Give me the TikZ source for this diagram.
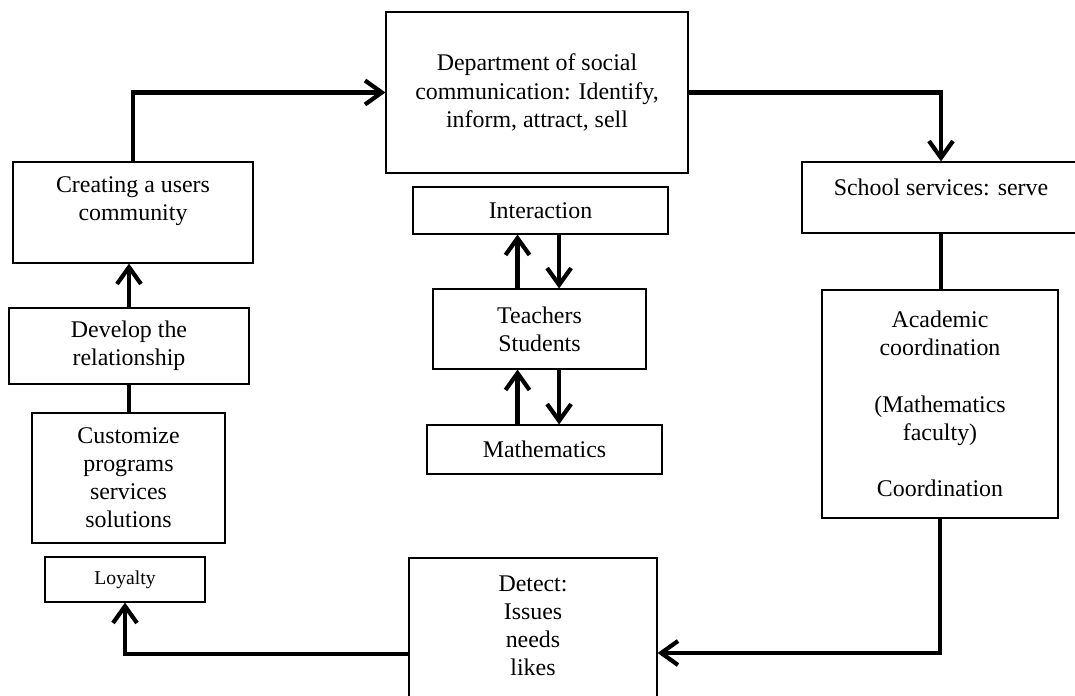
\documentclass[tikz,border=0pt]{standalone}
\usepackage{fontspec}
\setmainfont{Liberation Serif}
\usetikzlibrary{arrows.meta}

\tikzset{
  box/.style={draw, line width=0.8pt, align=center},
  flow/.style={line width=3pt, -{Straight Barb[length=4.2mm, width=6mm]}},
  link/.style={line width=3pt},
  toptext/.style={align=center, inner sep=0pt, below=#1},
}

\begin{document}
\begin{tikzpicture}[font=\fontsize{17}{20}\selectfont]
  \useasboundingbox (0,0) rectangle (26.875,17.375);

  % middle column
  \node[box, minimum width=7.55cm, minimum height=4.025cm] (dept) at (13.425,15.0625)
    {Department of social\\communication: Identify,\\inform, attract, sell};
  \node[box, minimum width=6.375cm, minimum height=1.175cm] (inter) at (13.5125,12.1125) {Interaction};
  \node[box, minimum width=5.325cm, minimum height=2cm] (teach) at (13.4875,9.15) {Teachers\\Students};
  \node[box, minimum width=5.875cm, minimum height=1.225cm] (maths) at (13.6125,6.1375) {Mathematics};
  \node[box, minimum width=6.2cm, minimum height=3.6cm,
    label={[toptext=0.45cm]north:Detect:\\Issues\\needs\\likes}] (detect) at (13.325,1.625) {};

  % left column
  \node[box, minimum width=6cm, minimum height=2.525cm,
    label={[toptext=0.38cm]north:Creating a users\\community}] (create) at (3.325,12.0625) {};
  \node[box, minimum width=6cm, minimum height=1.9cm] (develop) at (3.225,8.725) {Develop the\\relationship};
  \node[box, minimum width=4.825cm, minimum height=3.25cm] (custom) at (3.2125,5.425)
    {Customize\\programs\\services\\solutions};
  \node[box, minimum width=4cm, minimum height=1.125cm, font=\fontsize{14}{17}\selectfont] (loyal) at (3.125,2.8875) {Loyalty};

  % right column
  \node[box, minimum width=6.95cm, minimum height=1.775cm,
    label={[toptext=0.42cm]north:School services: serve}] (school) at (23.525,12.4375) {};
  \node[box, minimum width=5.9cm, minimum height=5.7cm] (acad) at (23.5,7.275)
    {Academic\\coordination\\[20pt](Mathematics\\faculty)\\[20pt]Coordination};

  % the cycle
  \draw[flow] (create.north) |- (dept.west);
  \draw[flow] (dept.east) -| (school.north);
  \draw[link] (school.south) -- (school.south |- acad.north);
  \draw[flow] (acad.south) |- ([yshift=-0.575cm]detect.east);
  \draw[flow] ([yshift=-0.6cm]detect.west) -| (loyal.south);
  \draw[link] (develop.south) -- (develop.south |- custom.north);
  \draw[flow] (develop.north) -- (develop.north |- create.south);

  % inside the middle column
  \draw[flow] ([xshift=-0.55cm]teach.north) -- ([xshift=-0.55cm]teach.north |- inter.south);
  \draw[flow] ([xshift=0.49cm]teach.north |- inter.south) -- ([xshift=0.49cm]teach.north);
  \draw[flow] ([xshift=-0.55cm]teach.south |- maths.north) -- ([xshift=-0.55cm]teach.south);
  \draw[flow] ([xshift=0.49cm]teach.south) -- ([xshift=0.49cm]teach.south |- maths.north);
\end{tikzpicture}
\end{document}
